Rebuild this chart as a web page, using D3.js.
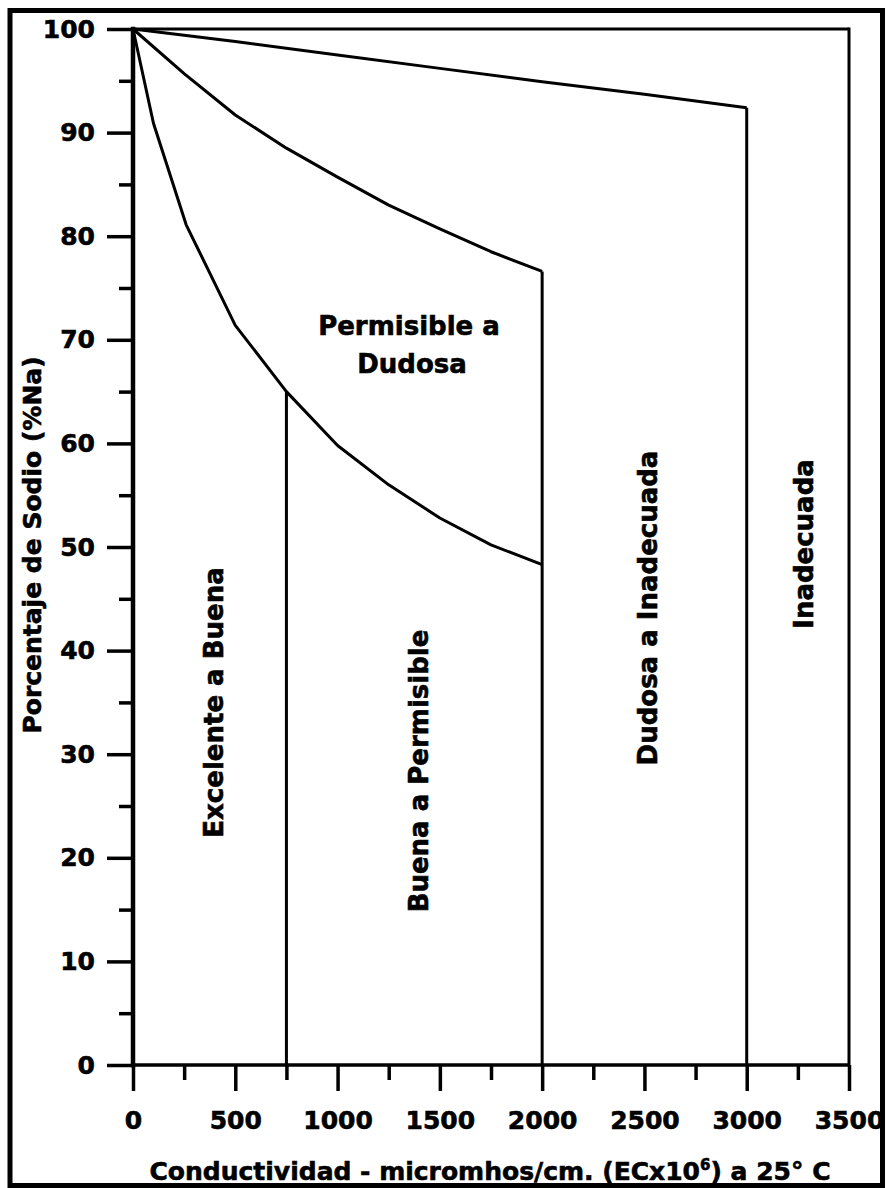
<!DOCTYPE html>
<html>
<head>
<meta charset="utf-8">
<script src="https://cdn.jsdelivr.net/npm/d3@7"></script>
<style>
  html, body { margin: 0; padding: 0; background: #fff; }
  svg text { font-family: "DejaVu Sans", "Liberation Sans", Arial, sans-serif; font-weight: bold; fill: #000; stroke: #000; stroke-width: 0.6px; }
</style>
</head>
<body>
<svg id="chart" width="887" height="1188"></svg>
<script>
// ---- Data ----
const xMajorTicks = [0, 500, 1000, 1500, 2000, 2500, 3000, 3500];
const xMinorTicks = [250, 750, 1250, 1750, 2250, 2750, 3250];
const yMajorTicks = [0, 10, 20, 30, 40, 50, 60, 70, 80, 90, 100];
const yMinorTicks = [5, 15, 25, 35, 45, 55, 65, 75, 85, 95];

// Boundary curves (EC, %Na)
const curveInadecuada = [[0, 100], [500, 98.8], [1000, 97.5], [1500, 96.2], [2000, 94.9], [2500, 93.7], [3000, 92.4]];
const curveDudosa = [[0, 100], [250, 95.7], [500, 91.7], [750, 88.5], [1000, 85.7], [1250, 83.0], [1500, 80.7], [1750, 78.5], [2000, 76.6]];
const curveBuena = [[0, 100], [100, 90.9], [260, 81.1], [500, 71.4], [750, 65.0], [1000, 59.8], [1250, 56.0], [1500, 52.8], [1750, 50.2], [2000, 48.3]];

// Vertical class limits: [EC, top %Na]
const verticalLimits = [[750, 65.0], [2000, 76.6], [3000, 92.4]];

// Zone labels
const zoneLabels = ["Excelente a Buena", "Buena a Permisible", "Dudosa a Inadecuada", "Inadecuada"];
const topZoneLabel = ["Permisible a", "Dudosa"];
const yTitle = "Porcentaje de Sodio (%Na)";
const xTitleParts = ["Conductividad - micromhos/cm. (ECx10", "6", ") a 25° C"];

// ---- Drawing ----
const svg = d3.select("#chart");
svg.append("rect").attr("width", 887).attr("height", 1188).attr("fill", "#fff");

// outer frame
svg.append("rect")
  .attr("x", 10).attr("y", 10.5).attr("width", 872.5).attr("height", 1175)
  .attr("fill", "none").attr("stroke", "#000").attr("stroke-width", 5);

const x = d3.scaleLinear().domain([0, 3500]).range([133, 849]);
const y = d3.scaleLinear().domain([0, 100]).range([1065, 29]);

// plot box top and right
svg.append("line").attr("x1", x(0)).attr("x2", x(3500)).attr("y1", y(100)).attr("y2", y(100))
  .attr("stroke", "#000").attr("stroke-width", 3);
svg.append("line").attr("x1", x(3500)).attr("x2", x(3500)).attr("y1", y(100)).attr("y2", y(0))
  .attr("stroke", "#000").attr("stroke-width", 3).attr("stroke-linecap", "square");

// axes
const yMajor = svg.append("g").attr("transform", `translate(${x(0)},0)`)
  .call(d3.axisLeft(y).tickValues(yMajorTicks).tickSize(26).tickPadding(12).tickFormat(d3.format("d")));
const yMinor = svg.append("g").attr("transform", `translate(${x(0)},0)`)
  .call(d3.axisLeft(y).tickValues(yMinorTicks).tickSize(14).tickFormat(""));
const xMajor = svg.append("g").attr("transform", `translate(0,${y(0)})`)
  .call(d3.axisBottom(x).tickValues(xMajorTicks).tickSize(26).tickPadding(20).tickFormat(d3.format("d")));
const xMinor = svg.append("g").attr("transform", `translate(0,${y(0)})`)
  .call(d3.axisBottom(x).tickValues(xMinorTicks).tickSize(15).tickFormat(""));

[yMajor, yMinor, xMajor, xMinor].forEach(g => {
  g.selectAll(".domain").remove();
  g.selectAll(".tick line").attr("stroke", "#000").attr("stroke-width", 3.5);
  g.selectAll(".tick text").attr("font-size", 25).attr("fill", "#000")
    .attr("font-family", "DejaVu Sans").attr("font-weight", "bold");
});

// axis lines
svg.append("line").attr("x1", x(0)).attr("x2", x(0)).attr("y1", y(100)).attr("y2", y(0))
  .attr("stroke", "#000").attr("stroke-width", 4.5).attr("stroke-linecap", "square");
svg.append("line").attr("x1", x(0)).attr("x2", x(3500)).attr("y1", y(0)).attr("y2", y(0))
  .attr("stroke", "#000").attr("stroke-width", 3.5);

// curves
const line = d3.line().x(d => x(d[0])).y(d => y(d[1]));
[curveInadecuada, curveDudosa, curveBuena].forEach(c => {
  svg.append("path").attr("d", line(c)).attr("fill", "none")
    .attr("stroke", "#000").attr("stroke-width", 3).attr("stroke-linejoin", "round");
});

// vertical limits
verticalLimits.forEach(([ec, top]) => {
  svg.append("line").attr("x1", x(ec)).attr("x2", x(ec)).attr("y1", y(top)).attr("y2", y(0))
    .attr("stroke", "#000").attr("stroke-width", 3);
});

// zone labels (rotated)
const zonePos = [[223, 702.5], [428, 771], [657, 608], [813, 544]];
zoneLabels.forEach((t, i) => {
  svg.append("text").attr("transform", `translate(${zonePos[i][0]},${zonePos[i][1]}) rotate(-90)`)
    .attr("text-anchor", "middle").attr("font-size", 26).text(t);
});
svg.append("text").attr("x", 409).attr("y", 335).attr("text-anchor", "middle").attr("font-size", 26).text(topZoneLabel[0]);
svg.append("text").attr("x", 412).attr("y", 373).attr("text-anchor", "middle").attr("font-size", 26).text(topZoneLabel[1]);

// y title
svg.append("text").attr("transform", "translate(41,545) rotate(-90)")
  .attr("text-anchor", "middle").attr("font-size", 25).text(yTitle);

// x title
const xt = svg.append("text").attr("x", 490).attr("y", 1180).attr("text-anchor", "middle").attr("font-size", 25);
xt.append("tspan").text(xTitleParts[0]);
xt.append("tspan").attr("font-size", 15).attr("dy", -10).text(xTitleParts[1]);
xt.append("tspan").attr("dy", 10).text(xTitleParts[2]);
</script>
</body>
</html>
